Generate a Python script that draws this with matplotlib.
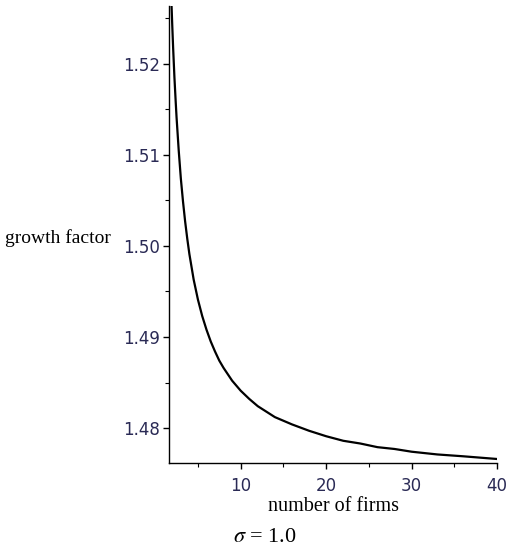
"""Growth factor vs number of firms (sigma = 1.0), Maple-style line plot."""

import matplotlib

matplotlib.use("Agg")
import matplotlib.pyplot as plt  # noqa: E402
from matplotlib.ticker import MultipleLocator  # noqa: E402

# values
n_firms = [1.8, 1.9, 2.0, 2.1, 2.25, 2.4, 2.5, 2.75, 3.0, 3.25, 3.5, 3.75,
           4.0, 4.5, 5.0, 5.5, 6.0, 6.5, 7.0, 7.5, 8.0, 9.0, 10.0, 11.0,
           12.0, 13.0, 14.0, 15.0, 16.0, 18.0, 20.0, 22.0, 24.0, 26.0, 28.0,
           30.0, 33.0, 36.0, 40.0]
growth = [1.5296, 1.5267, 1.5241, 1.5217, 1.5185, 1.5158, 1.5141, 1.5105,
          1.5074, 1.5049, 1.5027, 1.5008, 1.4991, 1.4963, 1.4941, 1.4923,
          1.4908, 1.4895, 1.4884, 1.4874, 1.4866, 1.4852, 1.4841, 1.4832,
          1.4824, 1.4818, 1.4812, 1.4808, 1.4804, 1.4797, 1.4791, 1.4786,
          1.4783, 1.4779, 1.4777, 1.4774, 1.4771, 1.4769, 1.4766]

x_ticks = [10, 20, 30, 40]
y_ticks = [1.48, 1.49, 1.50, 1.51, 1.52]
y_labels = ["1.48", "1.49", "1.50", "1.51", "1.52"]

TICK_COLOR = "#2a2a55"
SERIF = ["Liberation Serif", "DejaVu Serif"]

plt.rcParams["mathtext.fontset"] = "stix"

fig = plt.figure(figsize=(5.12, 5.5), dpi=100)
ax = fig.add_axes([0.331, 0.158, 0.640, 0.832])

ax.plot(n_firms, growth, color="black", linewidth=1.6)

ax.set_xlim(1.67, 40)
ax.set_ylim(1.47615, 1.5264)

ax.spines["top"].set_visible(False)
ax.spines["right"].set_visible(False)
ax.spines["left"].set_linewidth(1.0)
ax.spines["bottom"].set_linewidth(1.0)

ax.set_xticks(x_ticks)
ax.set_yticks(y_ticks)
ax.set_yticklabels(y_labels)
ax.xaxis.set_minor_locator(MultipleLocator(5))
ax.yaxis.set_minor_locator(MultipleLocator(0.005))
ax.tick_params(which="major", length=4, width=1.0, direction="out",
               labelsize=12, labelcolor=TICK_COLOR)
ax.tick_params(axis="x", which="major", pad=6)
ax.tick_params(axis="y", which="major", pad=3)
ax.tick_params(which="minor", length=3, width=0.8, direction="out")

ax.set_xlabel("number of firms", fontsize=14.5, family=SERIF)
ax.xaxis.set_label_coords(0.502, -0.075)

fig.text(0.010, 0.568, "growth factor", fontsize=14, family=SERIF,
         ha="left", va="center")

fig.text(0.518, 0.023, r"$\sigma$ = 1.0", fontsize=16, family=SERIF,
         ha="center", va="center")

fig.savefig("out.png", dpi=100)
